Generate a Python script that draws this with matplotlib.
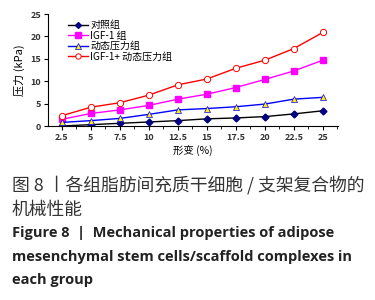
import matplotlib
matplotlib.use("Agg")
import matplotlib.pyplot as plt
from matplotlib.ticker import MultipleLocator

plt.rcParams['font.family'] = ['Noto Sans CJK SC', 'DejaVu Sans']

strain = [2.5, 5, 7.5, 10, 12.5, 15, 17.5, 20, 22.5, 25]
xticklabels = ['2.5', '5', '7.5', '10', '12.5', '15', '17.5', '20', '22.5', '25']
control = [0.0, 0.3, 0.6, 0.9, 1.2, 1.6, 1.8, 2.1, 2.7, 3.4]
igf1 = [1.5, 2.8, 3.6, 4.6, 6.0, 7.1, 8.6, 10.4, 12.3, 14.7]
dynamic = [0.8, 1.2, 1.7, 2.6, 3.6, 3.9, 4.3, 4.9, 6.0, 6.4]
igf1_dynamic = [2.3, 4.2, 5.2, 6.9, 9.2, 10.5, 12.9, 14.7, 17.3, 20.9]
labels = ['对照组', 'IGF-1 组', '动态压力组', 'IGF-1+ 动态压力组']

fig = plt.figure(figsize=(3.75, 3.0), dpi=100)
ax = fig.add_axes([0.128, 0.58, 0.773, 0.373])

ax.plot(strain, control, color='black', lw=1, marker='D', ms=3.5,
        mfc='#000080', mec='#000080', label=labels[0])
ax.plot(strain, igf1, color='#FF00FF', lw=1, marker='s', ms=4.5,
        mfc='#FF00FF', mec='#FF00FF', label=labels[1])
ax.plot(strain, dynamic, color='#0000FF', lw=1, marker='^', ms=4.8,
        mfc='#FFEE00', mec='#0000FF', mew=0.5, label=labels[2])
ax.plot(strain, igf1_dynamic, color='#FF0000', lw=1, marker='o', ms=4.5,
        mfc='white', mec='#FF0000', mew=0.7, label=labels[3])

ax.set_xlim(1.3, 26.3)
ax.set_ylim(0, 25)
ax.set_xticks(strain)
ax.set_xticklabels(xticklabels)
ax.xaxis.set_minor_locator(MultipleLocator(1.25))
ax.yaxis.set_major_locator(MultipleLocator(5))
ax.tick_params(axis='both', labelsize=6.5, length=3, width=0.8, direction='out', pad=2)
ax.tick_params(axis='x', which='minor', length=2, width=0.6)
for lab in ax.get_xticklabels() + ax.get_yticklabels():
    lab.set_fontweight('bold')
    lab.set_color('#333333')
for s in ['top', 'right']:
    ax.spines[s].set_visible(False)
ax.spines['left'].set_linewidth(0.8)
ax.spines['bottom'].set_linewidth(0.8)

ax.set_ylabel('压力 (kPa)', fontsize=8, labelpad=4)
ax.set_xlabel('形变 (%)', fontsize=7.5, labelpad=3)

leg = ax.legend(loc='upper left', bbox_to_anchor=(0.05, 1.0), frameon=False,
                fontsize=7.2, handlelength=2.0, borderpad=0.1, labelspacing=0.05,
                handletextpad=0.2, markerscale=0.85)

cjk = ['Noto Sans CJK SC', 'DejaVu Sans']
en = ['Open Sans', 'DejaVu Sans']
fig.text(0.032, 0.383, '图 8 丨各组脂肪间充质干细胞 / 支架复合物的', fontsize=12.8,
         color='#333333', va='center', family=cjk, fontweight='medium')
fig.text(0.032, 0.30, '机械性能', fontsize=12.8, color='#333333', va='center',
         family=cjk, fontweight='medium')
fig.text(0.032, 0.223, 'Figure 8  |  Mechanical properties of adipose', fontsize=10.5,
         fontweight='bold', color='#222222', va='center', family=en)
fig.text(0.032, 0.143, 'mesenchymal stem cells/scaffold complexes in', fontsize=10.5,
         fontweight='bold', color='#222222', va='center', family=en)
fig.text(0.032, 0.067, 'each group', fontsize=10.5, fontweight='bold', color='#222222',
         va='center', family=en)

fig.savefig('out.png', dpi=100)
